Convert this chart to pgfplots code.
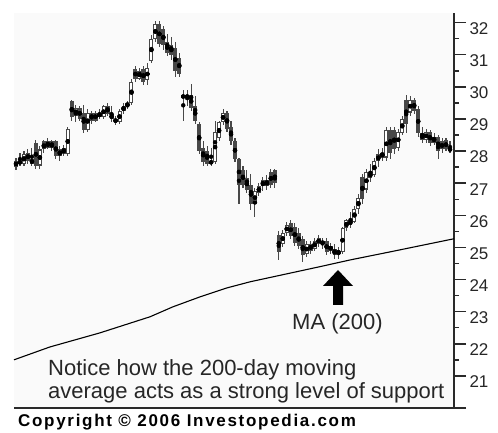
\documentclass[border=0pt]{standalone}
\usepackage{pgfplots}
\pgfplotsset{compat=1.18}
\usepackage{pgfplotstable}
\usepackage{fontspec}
\setmainfont{Liberation Sans}
\definecolor{candle}{HTML}{484848}
\definecolor{axisc}{HTML}{2A2A2A}

\pgfplotstableread{
d o h l c
0 27.50 27.80 27.40 27.70
1 27.70 27.95 27.55 27.60
2 27.60 28.00 27.55 27.90
3 27.95 28.05 27.60 27.70
4 27.75 28.10 27.55 27.60
5 28.25 28.35 27.45 27.55
6 27.55 28.15 27.45 28.05
7 28.05 28.35 27.95 28.30
8 28.30 28.40 28.05 28.10
9 28.10 28.35 28.00 28.30
10 28.30 28.35 27.75 27.85
11 27.85 28.15 27.70 28.05
12 28.10 28.20 27.85 27.90
13 27.90 28.75 27.85 28.70
14 29.55 29.60 28.95 29.05
15 29.10 29.45 28.90 29.35
16 29.35 29.40 28.95 29.00
17 29.20 29.45 28.55 28.65
18 28.65 29.30 28.60 29.20
19 29.20 29.25 28.85 28.95
20 28.95 29.25 28.90 29.20
21 29.20 29.30 29.00 29.05
22 29.05 29.45 29.00 29.40
23 29.40 29.50 29.10 29.15
24 29.15 29.40 28.90 29.00
25 29.00 29.10 28.80 28.90
26 28.90 29.30 28.85 29.25
27 29.25 29.50 29.15 29.40
28 29.40 29.55 29.30 29.50
29 29.50 30.25 29.45 30.15
30 30.55 30.65 30.15 30.25
31 30.25 30.60 30.20 30.50
32 30.55 30.65 30.05 30.15
33 30.20 30.75 30.05 30.60
34 30.80 31.60 30.75 31.50
35 31.50 32.05 31.40 31.95
36 31.95 32.05 31.25 31.35
37 31.80 31.90 31.15 31.30
38 31.40 31.65 30.95 31.05
39 31.30 31.55 30.85 31.00
40 31.20 31.40 30.30 30.50
41 30.90 31.05 30.30 30.40
42 29.75 29.90 28.95 29.65
43 29.65 29.90 29.40 29.75
44 29.75 30.10 29.25 29.35
45 29.40 29.70 28.85 28.95
46 28.85 28.90 27.90 28.00
47 28.10 28.30 27.55 27.65
48 28.00 28.15 27.55 27.60
49 27.70 28.10 27.55 27.60
50 27.65 28.95 27.60 28.60
51 28.40 28.95 28.30 28.90
52 28.90 29.30 28.80 29.20
53 29.20 29.25 28.60 28.70
54 28.75 28.95 28.20 28.30
55 28.30 28.40 27.65 27.75
56 27.75 27.80 26.35 26.95
57 27.40 27.55 26.85 26.95
58 27.15 27.40 26.70 26.80
59 26.95 27.30 26.15 26.35
60 26.35 26.85 25.95 26.75
61 26.70 27.00 26.60 26.90
62 26.90 27.20 26.75 27.10
63 27.10 27.25 26.80 26.90
64 27.35 27.45 26.85 26.95
65 27.40 27.45 26.85 27.00
66 25.40 25.50 24.60 24.85
67 25.10 25.55 25.00 25.45
68 25.45 25.80 25.35 25.70
69 25.75 25.85 25.25 25.35
70 25.65 25.75 25.05 25.15
71 25.45 25.60 24.95 25.05
72 25.25 25.35 24.55 24.75
73 24.80 25.20 24.70 25.10
74 25.10 25.20 24.80 24.90
75 24.95 25.30 24.90 25.20
76 25.30 25.40 25.00 25.10
77 25.10 25.30 24.95 25.20
78 25.20 25.30 24.75 24.85
79 25.05 25.15 24.80 24.90
80 24.95 25.10 24.65 24.75
81 24.80 25.00 24.65 24.90
82 24.85 25.65 24.80 25.60
83 25.60 25.90 25.50 25.85
84 25.85 26.10 25.60 25.70
85 25.80 26.30 25.75 26.20
86 26.20 26.65 26.05 26.55
87 27.20 27.30 26.35 26.50
88 26.80 27.45 26.70 27.35
89 27.35 27.60 27.05 27.15
90 27.25 27.80 27.20 27.70
91 27.70 28.05 27.50 27.90
92 27.95 28.10 27.70 27.80
93 27.80 28.75 27.70 28.65
94 28.65 28.75 27.75 27.95
95 28.65 28.75 27.90 28.05
96 28.10 28.70 28.00 28.60
97 28.55 29.10 28.50 29.00
98 29.60 29.75 28.55 28.85
99 29.20 29.70 29.10 29.60
100 29.60 29.65 29.15 29.25
101 29.30 29.40 28.45 28.55
102 28.55 28.75 28.25 28.35
103 28.35 28.70 28.25 28.60
104 28.60 28.65 28.15 28.25
105 28.25 28.55 28.20 28.45
106 28.45 28.50 27.75 28.00
107 28.05 28.40 27.95 28.30
108 28.35 28.40 28.00 28.05
109 28.10 28.30 27.95 28.00
}\candles

\pgfplotstableread{
d ma
-0.5 21.50
8.5 21.90
21.1 22.34
33.65 22.84
39.4 23.15
46.2 23.46
53.0 23.74
58.8 23.93
76.3 24.40
83.9 24.61
93.9 24.86
110 25.27
}\matable

\begin{document}
\begin{tikzpicture}
\path[use as bounding box] (0,0) rectangle (498pt,433pt);
\begin{axis}[
  at={(14pt,25pt)}, anchor=south west,
  scale only axis, width=440pt, height=395pt,
  xmin=-0.5, xmax=110, ymin=20, ymax=32.3,
  axis x line=bottom, axis y line=right,
  axis line style={-, line width=1.5pt, color=axisc},
  xtick=\empty,
  ytick={21,...,32},
  extra y ticks={20}, extra y tick labels={},
  minor y tick num=1,
  tick align=outside,
  major tick length=12pt, minor tick length=5pt,
  every tick/.style={line width=1.5pt, axisc},
  /pgf/number format/assume math mode=true,
  yticklabel style={font=\fontsize{17}{17}\selectfont, text=black!85, anchor=west, yshift=-6pt},
  axis background/.style={fill=black!2},
  clip=false,
]
% wicks
\addplot[only marks, mark=none, error bars/.cd, y dir=both, y explicit,
  error mark=none, error bar style={line width=1.1pt, candle}]
  table[x=d, y expr={(\thisrow{h}+\thisrow{l})/2}, y error expr={(\thisrow{h}-\thisrow{l})/2}] {\candles};
% bodies
\addplot[only marks, mark=none, error bars/.cd, y dir=both, y explicit,
  error mark=none, error bar style={line width=4pt, candle}]
  table[x=d, y expr={(\thisrow{o}+\thisrow{c})/2}, y error expr={max(abs(\thisrow{c}-\thisrow{o})/2,0.03)}] {\candles};
% hollow interiors for rising candles
\addplot[only marks, mark=none, error bars/.cd, y dir=both, y explicit,
  error mark=none, error bar style={line width=2pt, white}]
  table[x=d, y expr={(\thisrow{o}+\thisrow{c})/2}, y error expr={\thisrow{c}>\thisrow{o} ? max((\thisrow{c}-\thisrow{o})/2-0.035,0) : 0}] {\candles};
% moving average
\addplot[black, line width=1.1pt] table[x=d, y=ma] {\matable};
\end{axis}
% arrow
\fill[black] (338pt,163pt) -- (353pt,147pt) -- (343pt,147pt) -- (343pt,128pt) -- (333pt,128pt) -- (333pt,147pt) -- (323pt,147pt) -- cycle;
\node[anchor=base west, inner sep=0pt, text=black!85, font=\fontsize{22}{23}\selectfont] at (292pt,103pt) {MA (200)};
\node[anchor=base west, inner sep=0pt, text=black!85, font=\fontsize{22}{23}\selectfont] at (48pt,57pt) {Notice how the 200-day moving};
\node[anchor=base west, inner sep=0pt, text=black!85, font=\fontsize{22}{23}\selectfont] at (48pt,34pt) {average acts as a strong level of support};
\node[anchor=base west, inner sep=0pt, text=black, font=\fontsize{17}{17}\selectfont\bfseries\addfontfeature{LetterSpace=10}] at (18pt,6pt) {Copyright © 2006 Investopedia.com};
\end{tikzpicture}
\end{document}
